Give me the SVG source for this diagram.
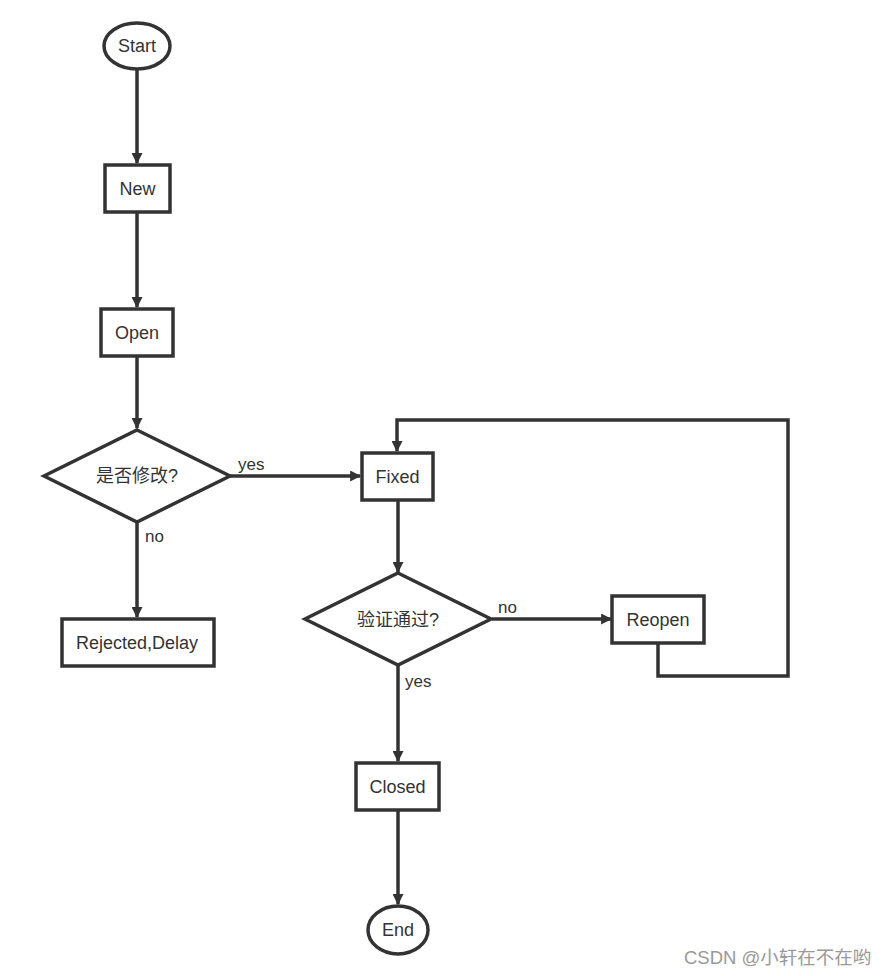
<svg xmlns="http://www.w3.org/2000/svg" width="889" height="976" viewBox="0 0 889 976">
<style>
.n{fill:#fff;stroke:#333;stroke-width:3.5}
.t{font-family:"Liberation Sans","Noto Sans CJK SC",sans-serif;font-size:18px;fill:#333;text-anchor:middle;dominant-baseline:central}
.l{font-family:"Liberation Sans","Noto Sans CJK SC",sans-serif;font-size:17px;fill:#333}
.c{fill:none;stroke:#333;stroke-width:3.5}
</style>
<defs>
<marker id="a" viewBox="0 0 10 10" refX="9" refY="5" markerWidth="11" markerHeight="11" markerUnits="userSpaceOnUse" orient="auto">
<path d="M0,0 L10,5 L0,10 z" fill="#333"/>
</marker>
</defs>
<rect width="889" height="976" fill="#fff"/>
<g id="connectors">
<path class="c" d="M137,69 V163" marker-end="url(#a)"/>
<path class="c" d="M137,212 V307" marker-end="url(#a)"/>
<path class="c" d="M137,357 V428" marker-end="url(#a)"/>
<path class="c" d="M137,522 V617" marker-end="url(#a)"/>
<path class="c" d="M230,476 H360" marker-end="url(#a)"/>
<path class="c" d="M398,500 V572" marker-end="url(#a)"/>
<path class="c" d="M492,619 H611" marker-end="url(#a)"/>
<path class="c" d="M658,644 V676 H788 V420 H397 V451" marker-end="url(#a)"/>
<path class="c" d="M398,666 V761" marker-end="url(#a)"/>
<path class="c" d="M398,811 V904" marker-end="url(#a)"/>
<text class="l" x="238" y="470">yes</text>
<text class="l" x="145" y="542">no</text>
<text class="l" x="498" y="613">no</text>
<text class="l" x="405" y="687">yes</text>
</g>
<g id="start"><ellipse class="n" cx="137" cy="46" rx="33" ry="23"/><text class="t" x="137" y="46">Start</text></g>
<g id="new"><rect class="n" x="105" y="165" width="65" height="47"/><text class="t" x="137.5" y="188.5">New</text></g>
<g id="open"><rect class="n" x="101" y="309" width="72" height="47"/><text class="t" x="137" y="332.5">Open</text></g>
<g id="decision1"><path class="n" d="M137,430 L230,476 L137,522 L44,476 Z"/><text class="t" x="137" y="476">是否修改?</text></g>
<g id="rejected"><rect class="n" x="62" y="619" width="152" height="47"/><text class="t" x="137" y="642.5">Rejected,Delay</text></g>
<g id="fixed"><rect class="n" x="362" y="453" width="71" height="47"/><text class="t" x="397.5" y="476.5">Fixed</text></g>
<g id="decision2"><path class="n" d="M398,573 L491,619 L398,665 L305,619 Z"/><text class="t" x="398" y="619.5">验证通过?</text></g>
<g id="reopen"><rect class="n" x="612" y="596" width="92" height="47"/><text class="t" x="658" y="619.5">Reopen</text></g>
<g id="closed"><rect class="n" x="356" y="763" width="83" height="47"/><text class="t" x="397.5" y="786.5">Closed</text></g>
<g id="end"><ellipse class="n" cx="398" cy="930" rx="30" ry="24"/><text class="t" x="398" y="930">End</text></g>
<text x="684" y="964" style="font-family:'Liberation Sans','Noto Sans CJK SC',sans-serif;font-size:18.5px;fill:#999">CSDN @小轩在不在哟</text>
</svg>
